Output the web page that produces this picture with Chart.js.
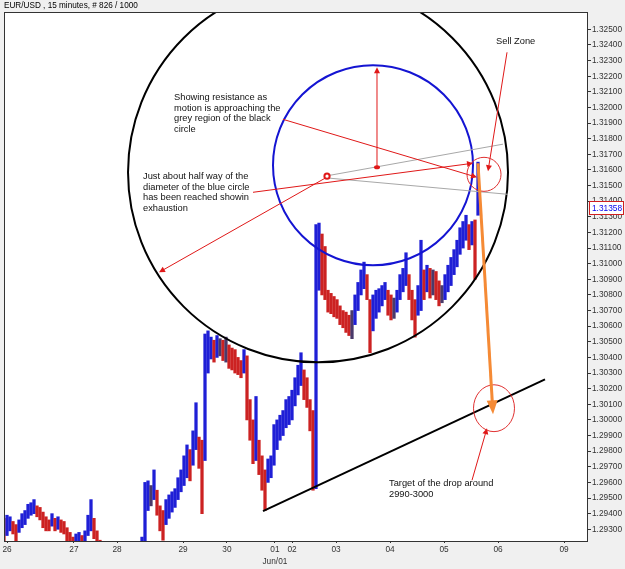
<!DOCTYPE html>
<html>
<head>
<meta charset="utf-8">
<script src="https://cdn.jsdelivr.net/npm/chart.js@4.4.1/dist/chart.umd.min.js"></script>
<style>
  html, body { margin: 0; padding: 0; background: #f0f0f0; }
  canvas { display: block; }
</style>
</head>
<body>
<canvas id="chart" width="625" height="569"></canvas>
<script>
// EUR/USD 15 min bars (high / low per bar)
const highs = [
  1.2937, 1.2939, 1.2938, 1.2935, 1.2933, 1.2936, 1.2940, 1.2942, 1.2946, 1.2947,
  1.2949, 1.2945, 1.2944, 1.2941, 1.2938, 1.2936, 1.2940, 1.2937, 1.2938, 1.2936,
  1.2935, 1.2931, 1.2928, 1.2925, 1.2927, 1.2928, 1.2926, 1.2929, 1.2939, 1.2949,
  1.2937, 1.2929, 1.2923, 1.2920, 1.2918, 1.2917, 1.2915, 1.2918, 1.2917, 1.2913,
  1.2915, 1.2918, 1.2919, 1.2921, 1.2920, 1.2922, 1.2925, 1.2960, 1.2961, 1.2958,
  1.2968, 1.2955, 1.2945, 1.2942, 1.2949, 1.2952, 1.2954, 1.2956, 1.2963, 1.2968,
  1.2977, 1.2984, 1.2981, 1.2993, 1.3011, 1.2989, 1.2987, 1.3055, 1.3057, 1.3053,
  1.3051, 1.3054, 1.3052, 1.3051, 1.3053, 1.3048, 1.3046, 1.3045, 1.3040, 1.3038,
  1.3045, 1.3041, 1.3013, 1.3000, 1.3015, 1.2987, 1.2977, 1.2968, 1.2975, 1.2977,
  1.2997, 1.3000, 1.3003, 1.3006, 1.3013, 1.3015, 1.3019, 1.3027, 1.3035, 1.3043,
  1.3032, 1.3027, 1.3013, 1.3006, 1.3125, 1.3126, 1.3119, 1.3111, 1.3083, 1.3081,
  1.3079, 1.3077, 1.3073, 1.3070, 1.3069, 1.3067, 1.3070, 1.3080, 1.3088, 1.3096,
  1.3101, 1.3093, 1.3077, 1.3080, 1.3083, 1.3084, 1.3086, 1.3088, 1.3083, 1.3080,
  1.3078, 1.3083, 1.3093, 1.3097, 1.3107, 1.3093, 1.3083, 1.3077, 1.3086, 1.3115,
  1.3096, 1.3099, 1.3097, 1.3096, 1.3095, 1.3089, 1.3086, 1.3093, 1.3099, 1.3104,
  1.3109, 1.3115, 1.3123, 1.3127, 1.3131, 1.3125, 1.3127, 1.3128, 1.3165
];
const lows = [
  1.2922, 1.2926, 1.2929, 1.2927, 1.2922, 1.2928, 1.2931, 1.2933, 1.2937, 1.2939,
  1.2940, 1.2938, 1.2936, 1.2931, 1.2929, 1.2929, 1.2932, 1.2929, 1.2930, 1.2928,
  1.2927, 1.2922, 1.2920, 1.2918, 1.2920, 1.2921, 1.2917, 1.2920, 1.2926, 1.2929,
  1.2924, 1.2918, 1.2913, 1.2911, 1.2909, 1.2907, 1.2905, 1.2909, 1.2906, 1.2904,
  1.2906, 1.2909, 1.2910, 1.2911, 1.2910, 1.2913, 1.2915, 1.2918, 1.2942, 1.2945,
  1.2949, 1.2939, 1.2929, 1.2923, 1.2933, 1.2937, 1.2941, 1.2944, 1.2949, 1.2954,
  1.2958, 1.2963, 1.2961, 1.2971, 1.2981, 1.2969, 1.2940, 1.2974, 1.3030, 1.3039,
  1.3037, 1.3040, 1.3041, 1.3038, 1.3037, 1.3033, 1.3032, 1.3030, 1.3029, 1.3027,
  1.3030, 1.3000, 1.2987, 1.2972, 1.2974, 1.2965, 1.2955, 1.2942, 1.2960, 1.2963,
  1.2971, 1.2981, 1.2987, 1.2990, 1.2995, 1.2997, 1.3000, 1.3009, 1.3016, 1.3022,
  1.3013, 1.3008, 1.2993, 1.2955, 1.2956, 1.3083, 1.3080, 1.3077, 1.3069, 1.3068,
  1.3066, 1.3065, 1.3061, 1.3059, 1.3056, 1.3054, 1.3052, 1.3061, 1.3070, 1.3080,
  1.3084, 1.3077, 1.3043, 1.3057, 1.3065, 1.3069, 1.3073, 1.3077, 1.3067, 1.3064,
  1.3065, 1.3069, 1.3077, 1.3082, 1.3086, 1.3077, 1.3064, 1.3053, 1.3067, 1.3070,
  1.3077, 1.3082, 1.3078, 1.3080, 1.3077, 1.3073, 1.3075, 1.3077, 1.3082, 1.3086,
  1.3093, 1.3098, 1.3106, 1.3110, 1.3115, 1.3109, 1.3112, 1.3090, 1.3131
];
const lastPrice = 1.31358;

// x axis: bar positions of the day labels
const dayTickPos = [1.0, 23.3, 37.7, 59.7, 74.3, 90.3, 96.0, 110.7, 128.7, 146.7, 164.7, 186.7];
const dayTickLabels = ['26', '27', '28', '29', '30', ['01', 'Jun/01'], '02', '03', '04', '05', '06', '09'];

const priceTicks = [
  1.293, 1.294, 1.295, 1.296, 1.297, 1.298, 1.299, 1.300, 1.301, 1.302, 1.303,
  1.304, 1.305, 1.306, 1.307, 1.308, 1.309, 1.310, 1.311, 1.312, 1.313, 1.314,
  1.315, 1.316, 1.317, 1.318, 1.319, 1.320, 1.321, 1.322, 1.323, 1.324, 1.325
];

const UP = '#1f1fd6';
const DOWN = '#cc2222';
const FLAT = '#4a3a6a';
const barColors = highs.map((h, i) => {
  if (i === 0) return DOWN;
  const diff = (h + lows[i]) / 2 - (highs[i - 1] + lows[i - 1]) / 2;
  if (diff > 0.00008) return UP;
  if (diff < -0.00008) return DOWN;
  return FLAT;
});

const annoFont = '9.3px "Liberation Sans", Arial, sans-serif';

function arrow(ctx, x1, y1, x2, y2, color, width, len, half) {
  const a = Math.atan2(y2 - y1, x2 - x1);
  ctx.strokeStyle = color;
  ctx.fillStyle = color;
  ctx.lineWidth = width;
  ctx.beginPath();
  ctx.moveTo(x1, y1);
  ctx.lineTo(x2 - Math.cos(a) * len * 0.6, y2 - Math.sin(a) * len * 0.6);
  ctx.stroke();
  ctx.beginPath();
  ctx.moveTo(x2, y2);
  ctx.lineTo(x2 - Math.cos(a) * len - Math.sin(a) * half, y2 - Math.sin(a) * len + Math.cos(a) * half);
  ctx.lineTo(x2 - Math.cos(a) * len + Math.sin(a) * half, y2 - Math.sin(a) * len - Math.cos(a) * half);
  ctx.closePath();
  ctx.fill();
}

const drawings = {
  id: 'drawings',
  beforeDraw(chart) {
    const { ctx, chartArea: a } = chart;
    ctx.save();
    ctx.fillStyle = '#f0f0f0';
    ctx.fillRect(0, 0, chart.width, chart.height);
    ctx.fillStyle = '#ffffff';
    ctx.fillRect(a.left, a.top, a.right - a.left, a.bottom - a.top);
    ctx.fillStyle = '#000';
    ctx.font = '8.2px "Liberation Sans", Arial, sans-serif';
    ctx.textBaseline = 'middle';
    ctx.fillText('EUR/USD , 15 minutes, # 826 / 1000', 4, 6);
    ctx.restore();
  },
  afterDatasetsDraw(chart) {
    const { ctx, chartArea: a } = chart;
    const xs = chart.scales.x, ys = chart.scales.y;
    const X = v => xs.getPixelForValue(v);
    const Y = p => ys.getPixelForValue(p);
    const R = v => X(v) - X(0);
    ctx.save();
    ctx.beginPath();
    ctx.rect(a.left, a.top, a.right - a.left, a.bottom - a.top);
    ctx.clip();

    // black circle
    ctx.strokeStyle = '#000';
    ctx.lineWidth = 2;
    ctx.beginPath();
    ctx.arc(X(104.67), Y(1.31585), R(63.33), 0, Math.PI * 2);
    ctx.stroke();

    // blue circle
    ctx.strokeStyle = '#1414d2';
    ctx.lineWidth = 2;
    ctx.beginPath();
    ctx.arc(X(123), Y(1.3163), R(33.33), 0, Math.PI * 2);
    ctx.stroke();

    // grey channel lines
    ctx.strokeStyle = '#a8a8a8';
    ctx.lineWidth = 1;
    ctx.beginPath();
    ctx.moveTo(X(108.67), Y(1.31566));
    ctx.lineTo(X(166.33), Y(1.31765));
    ctx.moveTo(X(108.67), Y(1.31547));
    ctx.lineTo(X(168), Y(1.31444));
    ctx.stroke();

    // trend line
    ctx.strokeStyle = '#000';
    ctx.lineWidth = 2;
    ctx.beginPath();
    ctx.moveTo(X(86.33), Y(1.29416));
    ctx.lineTo(X(180.33), Y(1.3026));
    ctx.stroke();

    const red = '#e01818';
    // vertical radius arrow with dot
    arrow(ctx, X(124.33), Y(1.31617), X(124.33), Y(1.32257), red, 1, 6, 3);
    ctx.fillStyle = red;
    ctx.beginPath();
    ctx.ellipse(X(124.33), Y(1.31617), 3, 2, 0, 0, Math.PI * 2);
    ctx.fill();

    // pointers
    arrow(ctx, X(93), Y(1.31924), X(157.67), Y(1.31553), red, 1, 6, 3);
    arrow(ctx, X(83), Y(1.31457), X(156.33), Y(1.31643), red, 1, 6, 3);
    arrow(ctx, X(107), Y(1.31547), X(51.67), Y(1.30945), red, 1, 6, 3);
    arrow(ctx, X(167.67), Y(1.32353), X(161.33), Y(1.31592), red, 1, 6, 3);
    arrow(ctx, X(156), Y(1.29614), X(161), Y(1.29947), red, 1, 6, 3);

    // small ring at the centre
    ctx.strokeStyle = red;
    ctx.lineWidth = 2;
    ctx.beginPath();
    ctx.arc(X(107.67), Y(1.3156), 2.6, 0, Math.PI * 2);
    ctx.stroke();

    // sell zone and target circles
    ctx.strokeStyle = '#e03030';
    ctx.lineWidth = 1;
    ctx.beginPath();
    ctx.arc(X(160), Y(1.31572), R(5.67), 0, Math.PI * 2);
    ctx.stroke();
    ctx.beginPath();
    ctx.ellipse(X(163.33), Y(1.30075), R(6.83), Y(1.30075 - 0.0015) - Y(1.30075), 0, 0, Math.PI * 2);
    ctx.stroke();

    // orange drop arrow
    arrow(ctx, X(158), Y(1.31643), X(163), Y(1.30036), '#f58a35', 3, 14, 5.5);

    // notes
    ctx.fillStyle = '#111';
    ctx.font = annoFont;
    ctx.textBaseline = 'middle';
    const note = (v, p, lines) => lines.forEach((t, k) => ctx.fillText(t, X(v), Y(p) + k * 10.8));
    note(56.67, 1.32065, ['Showing resistance as', 'motion is approaching the', 'grey region of the black', 'circle']);
    note(46.33, 1.3156, ['Just about half way of the', 'diameter of the blue circle', 'has been reached showin', 'exhaustion']);
    note(164, 1.32424, ['Sell Zone']);
    note(128.33, 1.29595, ['Target of the drop around', '2990-3000']);
    ctx.restore();
  },
  afterDraw(chart) {
    const { ctx, chartArea: a } = chart;
    ctx.save();
    ctx.strokeStyle = '#333';
    ctx.lineWidth = 1;
    ctx.strokeRect(Math.round(a.left) + 0.5, Math.round(a.top) + 0.5,
      Math.round(a.right - a.left), Math.round(a.bottom - a.top));
    const y = Math.round(chart.scales.y.getPixelForValue(lastPrice));
    ctx.fillStyle = '#fff';
    ctx.fillRect(589, y - 6, 34, 13);
    ctx.strokeStyle = '#d02020';
    ctx.strokeRect(589.5, y - 6.5, 34, 13);
    ctx.fillStyle = '#0000ee';
    ctx.font = '8.3px "Liberation Sans", Arial, sans-serif';
    ctx.textBaseline = 'middle';
    ctx.fillText(lastPrice.toFixed(5), 592, y + 0.5);
    ctx.restore();
  }
};

new Chart(document.getElementById('chart'), {
  type: 'bar',
  data: {
    datasets: [{
      data: highs.map((h, i) => ({ x: i, y: [lows[i], h] })),
      backgroundColor: barColors,
      borderWidth: 0,
      barThickness: 2.6,
      grouped: false
    }]
  },
  options: {
    responsive: false,
    animation: false,
    devicePixelRatio: 1,
    layout: { padding: { left: 4, top: 12, right: 0, bottom: 0 } },
    plugins: { legend: { display: false }, tooltip: { enabled: false } },
    scales: {
      x: {
        type: 'linear',
        min: 0,
        max: 194.33,
        offset: false,
        afterFit: s => { s.height = 28; },
        afterBuildTicks: s => { s.ticks = dayTickPos.map(v => ({ value: v })); },
        grid: { drawOnChartArea: false, offset: false, tickLength: 2, color: '#333' },
        border: { color: '#333' },
        ticks: {
          autoSkip: false,
          maxRotation: 0,
          padding: 1,
          color: '#333',
          font: { family: '"Liberation Sans", Arial, sans-serif', size: 8.3, lineHeight: 1.4 },
          callback: (v, i) => dayTickLabels[i]
        }
      },
      y: {
        position: 'right',
        min: 1.29225,
        max: 1.32611,
        afterFit: s => { s.width = 38; },
        afterBuildTicks: s => { s.ticks = priceTicks.map(v => ({ value: v })); },
        grid: { drawOnChartArea: false, tickLength: 4, color: '#333' },
        border: { color: '#333' },
        ticks: {
          padding: 1,
          color: '#333',
          font: { family: '"Liberation Sans", Arial, sans-serif', size: 8.3 },
          callback: v => v.toFixed(5)
        }
      }
    }
  },
  plugins: [drawings]
});
</script>
</body>
</html>
